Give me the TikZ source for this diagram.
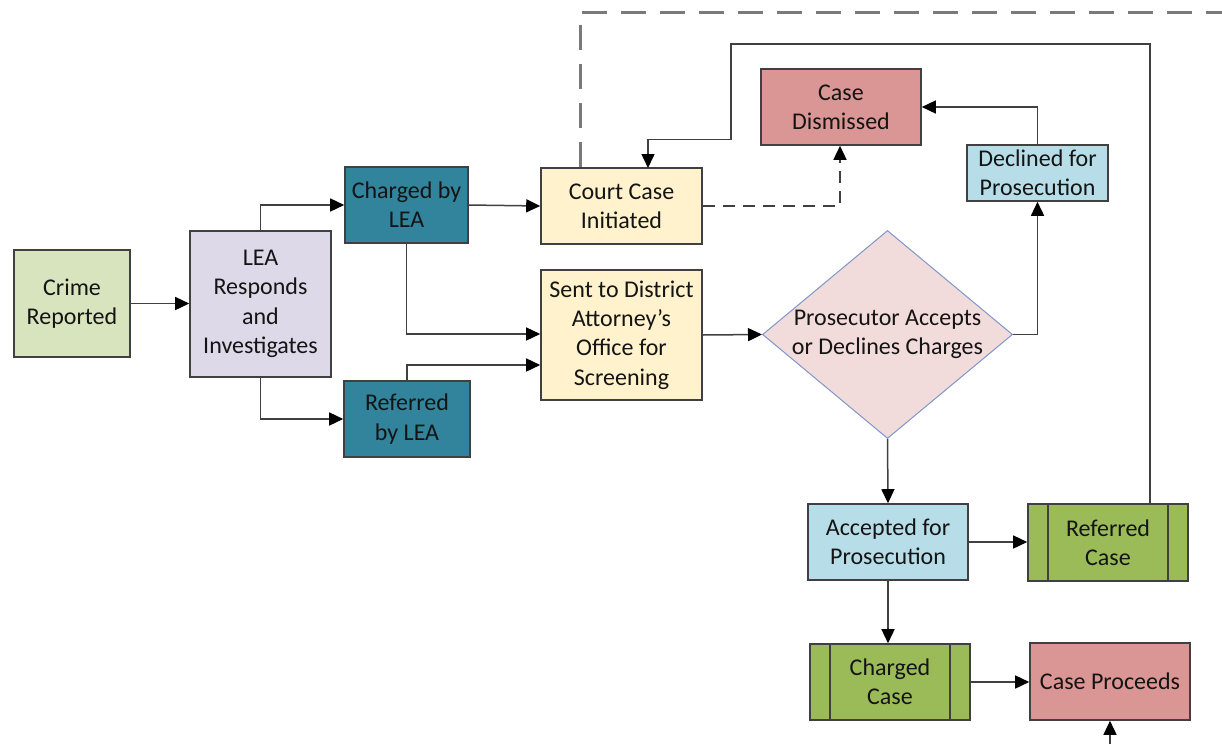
\documentclass[tikz,border=0pt]{standalone}
\usepackage{fontspec}
\setmainfont{Carlito}
\usetikzlibrary{arrows.meta,shapes.geometric}
\definecolor{linegray}{HTML}{404040}
\definecolor{dashgray}{HTML}{7A7A7A}
\definecolor{txt}{HTML}{141414}
\definecolor{crimegreen}{HTML}{D7E4BD}
\definecolor{lavender}{HTML}{DDD9E8}
\definecolor{teal}{HTML}{31849B}
\definecolor{cream}{HTML}{FFF2CC}
\definecolor{rose}{HTML}{D99694}
\definecolor{skyblue}{HTML}{B7DEE8}
\definecolor{olive}{HTML}{9BBB59}
\definecolor{pinkfill}{HTML}{F2DCDB}
\definecolor{diamondedge}{HTML}{7F96C8}
\tikzset{
  box/.style={draw=linegray, line width=1.6pt, align=center, text=txt,
    font=\fontsize{24}{29.3}\selectfont, inner sep=0pt},
  procbox/.style={box, fill=olive, path picture={
      \draw[linegray, line width=1.4pt]
        ([xshift=20pt]path picture bounding box.north west) --
        ([xshift=20pt]path picture bounding box.south west);
      \draw[linegray, line width=1.4pt]
        ([xshift=-20pt]path picture bounding box.north east) --
        ([xshift=-20pt]path picture bounding box.south east);}},
  conn/.style={draw=linegray, line width=1.5pt,
    -{Triangle[length=14pt,width=13pt,fill=black,color=black]}},
  dconn/.style={conn, dash pattern=on 12pt off 8pt},
}
\begin{document}
\begin{tikzpicture}[x=1pt,y=-1pt]
\useasboundingbox (0,0) rectangle (1222,744);

% process boxes
\node[box, fill=crimegreen, minimum width=116pt, minimum height=107pt] (crime) at (72,303.5) {Crime\\Reported};
\node[box, fill=lavender, minimum width=141pt, minimum height=146pt] (lea) at (260.5,304) {LEA\\Responds\\and\\Investigates};
\node[box, fill=teal, minimum width=123pt, minimum height=76pt] (charged) at (406.5,205) {Charged by\\LEA};
\node[box, fill=teal, minimum width=126pt, minimum height=76pt] (referred) at (407,419) {Referred\\by LEA};
\node[box, fill=cream, minimum width=161pt, minimum height=76pt] (court) at (621.5,206) {Court Case\\Initiated};
\node[box, fill=cream, minimum width=161pt, minimum height=130pt] (da) at (621.5,335) {Sent to District\\Attorney’s\\Office for\\Screening};
\node[box, fill=rose, minimum width=160pt, minimum height=76pt] (dismissed) at (841,107) {Case\\Dismissed};
\node[box, fill=skyblue, minimum width=141pt, minimum height=56pt] (declined) at (1037.5,173) {Declined for\\Prosecution};
\node[diamond, draw=diamondedge, line width=1pt, fill=pinkfill, align=center, text=txt,
  font=\fontsize{24}{29.3}\selectfont, inner sep=0pt, aspect=1.2,
  minimum width=250pt, minimum height=207pt] (decide) at (887.5,334.5) {Prosecutor Accepts\\or Declines Charges};
\node[box, fill=skyblue, minimum width=160pt, minimum height=76pt] (accepted) at (888,542) {Accepted for\\Prosecution};
\node[procbox, minimum width=160pt, minimum height=77pt] (refcase) at (1108,542.5) {Referred\\Case};
\node[procbox, minimum width=160pt, minimum height=76pt] (chcase) at (890,682) {Charged\\Case};
\node[box, fill=rose, minimum width=160pt, minimum height=77pt] (proceeds) at (1110,681.5) {Case Proceeds};

% free ends of the lines that leave the page
\coordinate (dashout) at (1222,12.5);
\coordinate (belowin) at (1110,744);

% connectors
\draw[conn] (crime.east) -- (lea.west |- crime.east);
\draw[conn] (lea.north) |- (charged.west);
\draw[conn] (lea.south) |- (referred.west);
\draw[conn] (charged.east) -- (court.west);
\draw[conn] (charged.south) |- ([yshift=1pt]da.west);
\draw[conn] (referred.north) |- ([yshift=-30pt]da.west);
\draw[conn] (da.east) -- (decide.west);
\draw[conn] (decide.east) -| (declined.south);
\draw[conn] (declined.north) |- (dismissed.east);
\draw[dconn] (court.east) -| ([xshift=-1pt]dismissed.south);
\draw[dashgray, line width=2.2pt, dash pattern=on 25pt off 14pt] ([xshift=-41pt]court.north) |- (dashout);
\draw[conn] ([xshift=42pt]refcase.north) |- (731,44) |- (648,139.5) -- (648,168);
\draw[conn] (decide.south) -- (accepted.north);
\draw[conn] (accepted.east) -- (refcase.west |- accepted.east);
\draw[conn] (accepted.south) -- (accepted.south |- chcase.north);
\draw[conn] (chcase.east) -- (proceeds.west |- chcase.east);
\draw[conn] (belowin) -- (proceeds.south);
\end{tikzpicture}
\end{document}
